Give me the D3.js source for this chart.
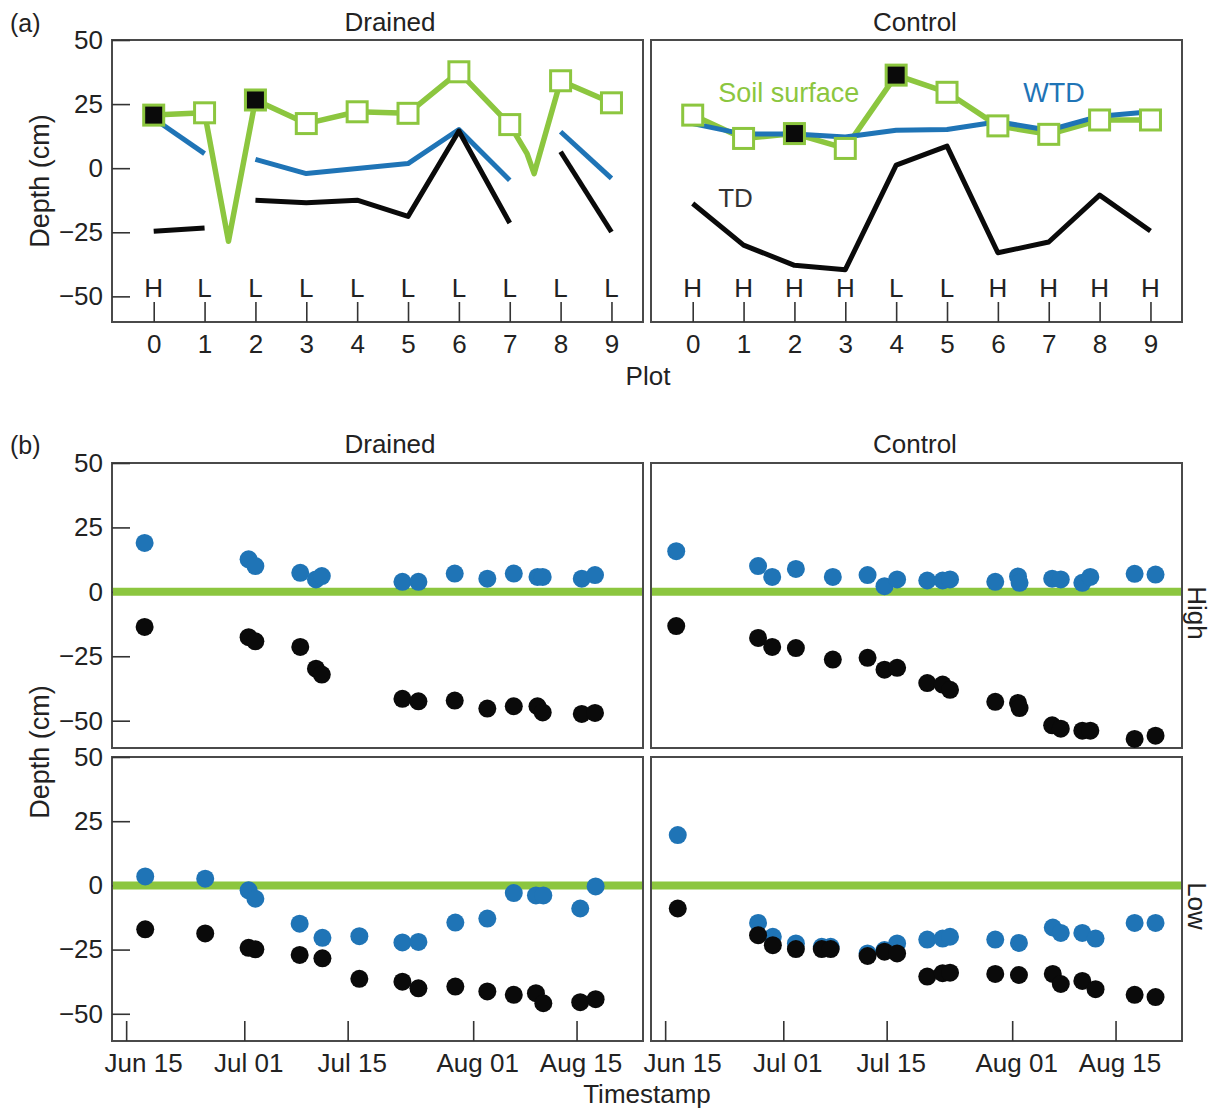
<!DOCTYPE html>
<html>
<head>
<meta charset="utf-8">
<script src="https://cdn.jsdelivr.net/npm/d3@7"></script>
<style>
	body { margin: 0; background: #fff; }
	text { font-family: "Liberation Sans", Arial, sans-serif; fill: #222; }
</style>
</head>
<body>
<svg id="chart" width="1211" height="1117"></svg>
<script>
// ---- data (a): depth per plot ----
const plots = [0, 1, 2, 3, 4, 5, 6, 7, 8, 9]
const drainedClass = ['H', 'L', 'L', 'L', 'L', 'L', 'L', 'L', 'L', 'L']
const controlClass = ['H', 'H', 'H', 'H', 'L', 'L', 'H', 'H', 'H', 'H']
const drainedSoil = [20.7, 21.6, 26.6, 17.4, 22.0, 21.4, 37.6, 17.0, 34.1, 25.5]
const drainedSoilDips = [[1.47, -28.5], [7.34, 5.7], [7.48, -2.1]]
const drainedWTD = [19.4, 5.7, 3.4, -2.1, -0.1, 1.8, 15.1, -4.7, 14.2, -4.0]
const drainedTD = [-24.6, -23.3, -12.5, -13.5, -12.5, -18.8, 14.5, -21.4, 6.4, -24.9]
const drainedRuns = [[0, 1], [2, 7], [8, 9]]
const drainedFilled = [0, 2]
const controlSoil = [20.7, 11.6, 13.5, 7.7, 36.3, 29.6, 16.5, 13.2, 18.8, 18.8]
const controlWTD = [17.4, 13.3, 13.3, 12.2, 14.8, 15.1, 18.1, 14.8, 20.3, 22.0]
const controlTD = [-13.8, -30.0, -37.9, -39.6, 1.2, 8.6, -33.0, -28.8, -10.5, -24.5]
const controlRuns = [[0, 9]]
const controlFilled = [2, 4]
const depthTicks = [-50, -25, 0, 25, 50]

// ---- data (b): depth over time ----
const drainedHighDates = ['2017-06-17 12', '2017-07-01 14', '2017-07-02 12', '2017-07-08 14', '2017-07-10 17', '2017-07-11 12', '2017-07-22 10', '2017-07-24 14', '2017-07-29 12', '2017-08-02 22', '2017-08-06 12', '2017-08-09 17', '2017-08-10 10', '2017-08-15 17', '2017-08-17 12']
const drainedHighWTD = [19.0, 12.6, 10.0, 7.4, 4.8, 6.1, 3.9, 3.9, 7.1, 5.1, 7.1, 5.8, 5.8, 5.1, 6.5]
const drainedHighTD = [-13.6, -17.6, -19.2, -21.4, -29.8, -32.1, -41.5, -42.5, -42.2, -45.3, -44.4, -44.4, -46.8, -47.4, -47.0]

const drainedLowDates = ['2017-06-17 14', '2017-06-25 17', '2017-07-01 14', '2017-07-02 12', '2017-07-08 12', '2017-07-11 14', '2017-07-16 14', '2017-07-22 10', '2017-07-24 14', '2017-07-29 14', '2017-08-02 22', '2017-08-06 12', '2017-08-09 12', '2017-08-10 12', '2017-08-15 12', '2017-08-17 14']
const drainedLowWTD = [3.5, 2.6, -1.9, -5.2, -14.9, -20.4, -19.8, -22.2, -22.0, -14.5, -12.9, -3.0, -3.9, -3.9, -9.0, -0.4]
const drainedLowTD = [-17.1, -18.7, -24.3, -24.9, -27.1, -28.4, -36.4, -37.5, -40.1, -39.4, -41.3, -42.6, -42.0, -45.9, -45.5, -44.3]

const controlHighDates = ['2017-06-16 12', '2017-06-27 14', '2017-06-29 12', '2017-07-02 17', '2017-07-07 17', '2017-07-12 10', '2017-07-14 17', '2017-07-16 10', '2017-07-20 12', '2017-07-22 14', '2017-07-23 14', '2017-07-29 17', '2017-08-01 19', '2017-08-02 00', '2017-08-06 10', '2017-08-07 14', '2017-08-10 12', '2017-08-11 14', '2017-08-17 14', '2017-08-20 10']
const controlHighWTD = [15.8, 10.0, 5.8, 8.9, 5.8, 6.5, 2.2, 4.8, 4.4, 4.4, 4.8, 3.9, 6.0, 3.5, 5.1, 4.8, 3.5, 5.8, 7.0, 6.7]
const controlHighTD = [-13.3, -17.9, -21.4, -21.8, -26.3, -25.6, -30.2, -29.5, -35.4, -36.0, -38.0, -42.7, -43.1, -45.1, -51.8, -53.1, -53.9, -53.9, -57.1, -55.8]

const controlLowDates = ['2017-06-16 17', '2017-06-27 14', '2017-06-29 14', '2017-07-02 17', '2017-07-06 05', '2017-07-07 10', '2017-07-12 10', '2017-07-14 17', '2017-07-16 10', '2017-07-20 12', '2017-07-22 14', '2017-07-23 14', '2017-07-29 17', '2017-08-01 22', '2017-08-06 12', '2017-08-07 14', '2017-08-10 12', '2017-08-12 07', '2017-08-17 14', '2017-08-20 10']
const controlLowWTD = [19.6, -14.6, -20.0, -22.6, -23.9, -23.9, -26.5, -25.2, -22.6, -21.1, -20.7, -20.0, -21.1, -22.4, -16.4, -18.5, -18.5, -20.7, -14.6, -14.6]
const controlLowTD = [-9.0, -19.4, -23.3, -24.8, -24.8, -24.8, -27.5, -25.8, -26.5, -35.5, -34.2, -34.0, -34.5, -34.9, -34.5, -38.4, -37.2, -40.4, -42.6, -43.5]

const dateTicks = ['2017-06-15 00', '2017-07-01 00', '2017-07-15 00', '2017-08-01 00', '2017-08-15 00']
const dateDomain = ['2017-06-13 02', '2017-08-24 00']

// ---- look ----
const green = '#8cc63f'
const blue = '#1f74b6'
const black = '#0a0a0a'
const frameColor = '#4a4a4a'
const fontSize = 26

const svg = d3.select('#chart')
const parse = d3.timeParse('%Y-%m-%d %H')
const cols = [[112, 643], [651, 1182]]

const frame = (x0, x1, y0, y1) => {
	svg.append('rect')
		.attr('x', x0).attr('y', y0)
		.attr('width', x1 - x0).attr('height', y1 - y0)
		.attr('fill', 'none')
		.attr('stroke', frameColor)
		.attr('stroke-width', 2)
}

const styleAxis = g => {
	g.select('path.domain').remove()
	g.selectAll('.tick line').attr('stroke', '#333').attr('stroke-width', 1.6)
	g.selectAll('.tick text')
		.attr('fill', '#222')
		.style('font-size', fontSize + 'px')
		.style('font-family', '"Liberation Sans", Arial, sans-serif')
}

const yAxis = (y, x0) => {
	svg.append('g')
		.attr('transform', `translate(${x0}, 0)`)
		.call(d3.axisLeft(y).tickValues(depthTicks).tickSize(-18).tickPadding(9))
		.call(styleAxis)
}

// ---- panel (a) ----
const drawPlotPanel = (col, soil, dips, wtd, td, runs, classes, filled, showY) => {
	const [x0, x1] = cols[col]
	const y0 = 40, y1 = 322
	const x = d3.scaleLinear().domain([-0.82, 9.62]).range([x0, x1])
	const y = d3.scaleLinear().domain([-60, 50]).range([y1, y0])
	const line = d3.line().x(d => x(d[0])).y(d => y(d[1]))

	frame(x0, x1, y0, y1)
	if (showY) yAxis(y, x0)

	svg.append('g')
		.attr('transform', `translate(0, ${y1})`)
		.call(d3.axisBottom(x).tickValues(plots).tickSize(-20).tickPadding(13).tickFormat(d3.format('d')))
		.call(styleAxis)

	// H / L class letters
	svg.append('g').selectAll('text')
		.data(plots)
		.enter()
		.append('text')
		.attr('x', d => x(d))
		.attr('y', 297)
		.attr('text-anchor', 'middle')
		.style('font-size', fontSize + 'px')
		.attr('fill', '#333')
		.text(d => classes[d])

	const soilPts = plots.map(i => [i, soil[i]]).concat(dips).sort((a, b) => a[0] - b[0])
	svg.append('path')
		.attr('d', line(soilPts))
		.attr('fill', 'none')
		.attr('stroke', green)
		.attr('stroke-width', 5.5)
		.attr('stroke-linejoin', 'round')

	const runLines = (arr, color) => {
		svg.append('g').selectAll('path')
			.data(runs.map(([a, b]) => d3.range(a, b + 1).map(i => [i, arr[i]])))
			.enter()
			.append('path')
			.attr('d', line)
			.attr('fill', 'none')
			.attr('stroke', color)
			.attr('stroke-width', 5)
			.attr('stroke-linejoin', 'round')
	}
	runLines(wtd, blue)
	runLines(td, black)

	svg.append('g').selectAll('rect')
		.data(plots)
		.enter()
		.append('rect')
		.attr('x', d => x(d) - 10)
		.attr('y', d => y(soil[d]) - 10)
		.attr('width', 20)
		.attr('height', 20)
		.attr('fill', d => filled.includes(d) ? black : '#fff')
		.attr('stroke', green)
		.attr('stroke-width', 3)

	return { x, y }
}

drawPlotPanel(0, drainedSoil, drainedSoilDips, drainedWTD, drainedTD, drainedRuns, drainedClass, drainedFilled, true)
const ctl = drawPlotPanel(1, controlSoil, [], controlWTD, controlTD, controlRuns, controlClass, controlFilled, false)

svg.append('text').attr('x', ctl.x(0.5)).attr('y', ctl.y(26))
	.style('font-size', '27px').style('fill', green).text('Soil surface')
svg.append('text').attr('x', ctl.x(6.5)).attr('y', ctl.y(26))
	.style('font-size', '27px').style('fill', blue).text('WTD')
svg.append('text').attr('x', ctl.x(0.5)).attr('y', ctl.y(-15))
	.style('font-size', '26px').style('fill', '#333').text('TD')

// ---- panel (b) ----
const drawTimePanel = (col, row, dates, wtd, td, showY, showX) => {
	const [x0, x1] = cols[col]
	const [y0, y1] = [[463, 748], [757, 1041]][row]
	const x = d3.scaleTime().domain(dateDomain.map(parse)).range([x0, x1])
	const y = d3.scaleLinear().domain([-60.6, 50]).range([y1, y0])
	const t = dates.map(parse)

	frame(x0, x1, y0, y1)
	if (showY) yAxis(y, x0)

	if (showX) {
		const ax = svg.append('g')
			.attr('transform', `translate(0, ${y1})`)
			.call(d3.axisBottom(x).tickValues(dateTicks.map(parse)).tickSize(-20).tickPadding(13).tickFormat(d3.timeFormat('%b %d')))
			.call(styleAxis)
		ax.selectAll('.tick text').attr('dx', (d, i) => i === 0 ? 17 : 4)
	}

	svg.append('line')
		.attr('x1', x0 + 1).attr('x2', x1 - 1)
		.attr('y1', y(0)).attr('y2', y(0))
		.attr('stroke', green)
		.attr('stroke-width', 8)

	const dots = (vals, color) => {
		svg.append('g').selectAll('circle')
			.data(vals)
			.enter()
			.append('circle')
			.attr('cx', (d, i) => x(t[i]))
			.attr('cy', d => y(d))
			.attr('r', 9)
			.attr('fill', color)
	}
	dots(wtd, blue)
	dots(td, black)
}

drawTimePanel(0, 0, drainedHighDates, drainedHighWTD, drainedHighTD, true, false)
drawTimePanel(1, 0, controlHighDates, controlHighWTD, controlHighTD, false, false)
drawTimePanel(0, 1, drainedLowDates, drainedLowWTD, drainedLowTD, true, true)
drawTimePanel(1, 1, controlLowDates, controlLowWTD, controlLowTD, false, true)

// ---- titles and axis names ----
const label = (txt, x, y, opts = {}) => {
	const el = svg.append('text')
		.attr('x', x).attr('y', y)
		.attr('text-anchor', opts.anchor || 'middle')
		.style('font-size', (opts.size || fontSize) + 'px')
		.text(txt)
	if (opts.rotate) el.attr('transform', `rotate(${opts.rotate}, ${x}, ${y})`)
	return el
}

label('(a)', 10, 32, { anchor: 'start', size: 25 })
label('(b)', 10, 454, { anchor: 'start', size: 25 })
label('Drained', 390, 31)
label('Control', 915, 31)
label('Drained', 390, 453)
label('Control', 915, 453)
label('Plot', 648, 385)
label('Timestamp', 647, 1103)
label('Depth (cm)', 49, 181, { rotate: -90, size: 27 })
label('Depth (cm)', 49, 752, { rotate: -90, size: 27 })
label('High', 1188, 613, { rotate: 90 })
label('Low', 1188, 906, { rotate: 90 })
</script>
</body>
</html>
